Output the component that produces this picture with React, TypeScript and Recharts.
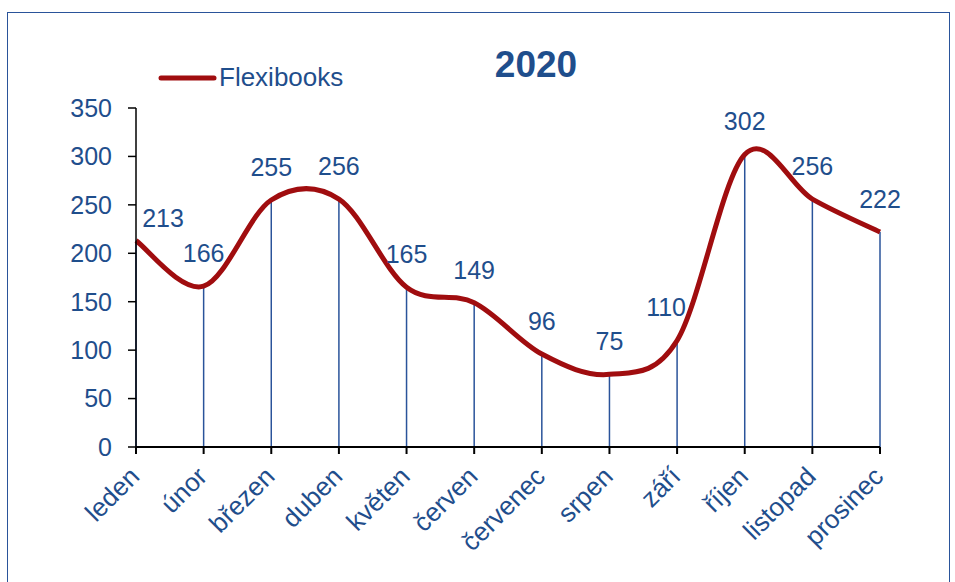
import React from 'react';
import { LineChart, Line, XAxis, YAxis, ReferenceLine } from 'recharts';

const months = ['leden', 'únor', 'březen', 'duben', 'květen', 'červen', 'červenec', 'srpen', 'září', 'říjen', 'listopad', 'prosinec'];
const flexibooks = [213, 166, 255, 256, 165, 149, 96, 75, 110, 302, 256, 222];
const yTicks = [0, 50, 100, 150, 200, 250, 300, 350];

const data = months.map((m, i) => ({ month: m, value: flexibooks[i] }));

const BLUE = '#1f4e8c';
const RED = '#a00d0f';
const FONT = '"Liberation Sans", Arial, sans-serif';
const FS = 25;

// smoothing like the spreadsheet one (catmull-rom through every point)
function smoothCurve(context: any) {
  let pts: number[][] = [];
  return {
    areaStart() {},
    areaEnd() {},
    lineStart() {
      pts = [];
    },
    point(x: number, y: number) {
      pts.push([+x, +y]);
    },
    lineEnd() {
      if (!pts.length) return;
      const n = pts.length;
      context.moveTo(pts[0][0], pts[0][1]);
      for (let i = 0; i < n - 1; i++) {
        const p0 = pts[Math.max(i - 1, 0)];
        const p1 = pts[i];
        const p2 = pts[i + 1];
        const p3 = pts[Math.min(i + 2, n - 1)];
        context.bezierCurveTo(
          p1[0] + (p2[0] - p0[0]) / 6,
          p1[1] + (p2[1] - p0[1]) / 6,
          p2[0] - (p3[0] - p1[0]) / 6,
          p2[1] - (p3[1] - p1[1]) / 6,
          p2[0],
          p2[1]
        );
      }
    },
  };
}

const MonthTick = (props: any) => {
  const { x, y, payload } = props;
  return (
    <g transform={`translate(${x + 5},${y + 22})`}>
      <text textAnchor="end" transform="rotate(-45)" fill={BLUE} fontSize={26} fontFamily={FONT}>
        {payload.value}
      </text>
    </g>
  );
};

const ValueLabel = (props: any) => {
  const { x, y, value, index } = props;
  let dx = 0;
  let dy = -24;
  if (index === 0) {
    dx = 27;
    dy = -14;
  }
  if (index === 8) dx = -11;
  return (
    <text x={x + dx} y={y + dy} textAnchor="middle" fill={BLUE} fontSize={FS} fontFamily={FONT}>
      {value}
    </text>
  );
};

export default function App() {
  return (
    <div style={{ position: 'absolute', left: 0, top: 0, width: 955, height: 582, background: '#fff', overflow: 'hidden' }}>
      <div
        style={{
          position: 'absolute',
          left: 7,
          top: 12,
          width: 943,
          height: 600,
          border: '1.5px solid #2a539a',
          boxSizing: 'border-box',
        }}
      />
      <div
        style={{
          position: 'absolute',
          left: 436,
          top: 44,
          width: 200,
          textAlign: 'center',
          fontFamily: FONT,
          fontWeight: 'bold',
          fontSize: 37,
          lineHeight: 'normal',
          color: BLUE,
        }}
      >
        2020
      </div>
      <div style={{ position: 'absolute', left: 158, top: 62, display: 'flex', alignItems: 'center', fontFamily: FONT, fontSize: 26, color: BLUE }}>
        <svg width={59} height={10}>
          <line x1={3} y1={5} x2={56} y2={5} stroke={RED} strokeWidth={5} strokeLinecap="round" />
        </svg>
        <span style={{ marginLeft: 2 }}>Flexibooks</span>
      </div>
      <div style={{ position: 'absolute', left: 0, top: 0 }}>
        <LineChart width={955} height={582} data={data} margin={{ top: 108, right: 75, bottom: 35, left: 76 }}>
          <XAxis
            dataKey="month"
            interval={0}
            height={100}
            tick={<MonthTick />}
            tickSize={7}
            axisLine={{ stroke: '#000', strokeWidth: 2 }}
            tickLine={{ stroke: '#000', strokeWidth: 2 }}
          />
          <YAxis
            width={60}
            domain={[0, 350]}
            ticks={yTicks}
            tickSize={8}
            tickMargin={16}
            axisLine={{ stroke: '#000', strokeWidth: 1.5 }}
            tickLine={{ stroke: '#000', strokeWidth: 1.5 }}
            tick={{ fill: BLUE, fontSize: FS, fontFamily: FONT }}
          />
          {data.map((d) => (
            <ReferenceLine
              key={d.month}
              segment={[
                { x: d.month, y: 0 },
                { x: d.month, y: d.value },
              ]}
              stroke="#2a539a"
              strokeWidth={1.5}
            />
          ))}
          <Line
            dataKey="value"
            type={smoothCurve as any}
            stroke={RED}
            strokeWidth={5}
            dot={false}
            activeDot={false}
            label={<ValueLabel />}
            isAnimationActive={false}
          />
        </LineChart>
      </div>
    </div>
  );
}
